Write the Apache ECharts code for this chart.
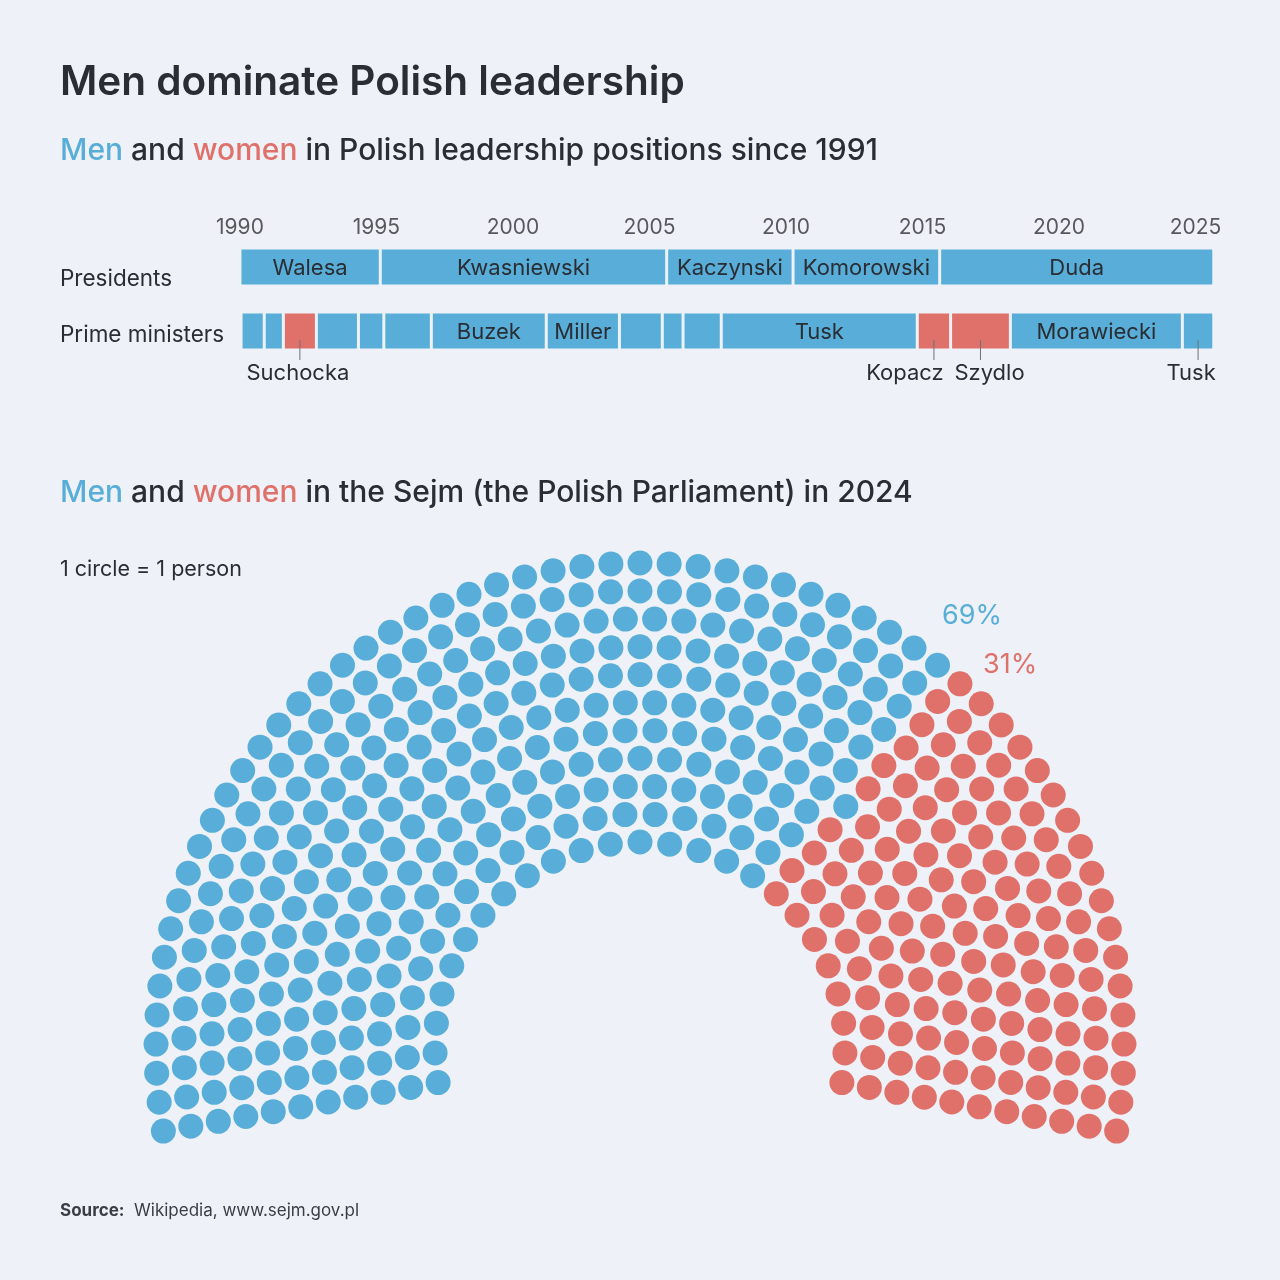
<!DOCTYPE html>
<html>
<head>
<meta charset="utf-8">
<title>Men dominate Polish leadership</title>
<style>
  html, body { margin: 0; padding: 0; background: #eef2f8; }
  #main { width: 1280px; height: 1280px; }
</style>
<script src="https://cdn.jsdelivr.net/npm/echarts@6.0.0/dist/echarts.min.js"></script>
</head>
<body>
<div id="main"></div>
<script>
// ---- data ----
var rowNames = ['Presidents', 'Prime ministers'];
var yearTicks = [1990, 1995, 2000, 2005, 2010, 2015, 2020, 2025];

var presNames = ['Walesa', 'Kwasniewski', 'Kaczynski', 'Komorowski', 'Duda'];
var presStart = [1990.0, 1995.14, 2005.63, 2010.26, 2015.63];
var presEnd = [1995.14, 2005.63, 2010.26, 2015.63, 2025.67];

var pmNames = ['Mazowiecki', 'Bielecki', 'Suchocka', 'Pawlak', 'Oleksy', 'Cimoszewicz', 'Buzek', 'Miller',
  'Belka', 'Marcinkiewicz', 'Kaczynski', 'Tusk', 'Kopacz', 'Szydlo', 'Morawiecki', 'Tusk'];
var pmStart = [1990.04, 1990.89, 1991.59, 1992.80, 1994.34, 1995.27, 1997.01, 2001.22,
  2003.90, 2005.47, 2006.23, 2007.63, 2014.81, 2016.03, 2018.22, 2024.52];
var pmEnd = [1990.89, 1991.59, 1992.80, 1994.34, 1995.27, 1997.01, 2001.22, 2003.90,
  2005.47, 2006.23, 2007.63, 2014.81, 2016.03, 2018.22, 2024.52, 2025.67];
var pmWoman = [0, 0, 1, 0, 0, 0, 0, 0, 0, 0, 0, 0, 1, 1, 0, 0];
var pmLabel = ['', '', 'below', '', '', '', 'in', 'in', '', '', '', 'in', 'below', 'below', 'in', 'below'];

var seatsMen = 318;
var seatsWomen = 142;
var seatRows = 11;

// ---- style ----
var BLUE = '#58aed8';
var RED = '#e0716a';
var TEXT = '#2a2d33';
var FONT = 'Inter, "Noto Sans", sans-serif';
var belowShift = { 2: -2, 12: -29, 13: 9, 15: -7 }; // nudges so the labels don't collide

// seats placed on concentric arcs, then sorted by angle so parties form wedges
function seatLayout(total, rows, spanDeg) {
  var radii = [], sum = 0;
  for (var i = 0; i < rows; i++) { radii.push(205 + i * 27.9); sum += radii[i]; }
  var counts = radii.map(function (r) { return Math.round(total * r / sum); });
  var diff = total - counts.reduce(function (a, b) { return a + b; }, 0);
  var k = rows - 1;
  while (diff !== 0) {
    counts[k] += diff > 0 ? 1 : -1;
    diff += diff > 0 ? -1 : 1;
    k = (k - 1 + rows) % rows;
  }
  var seats = [];
  counts.forEach(function (n, row) {
    for (var j = 0; j < n; j++) seats.push([row, spanDeg * j / (n - 1)]);
  });
  seats.sort(function (a, b) { return a[1] - b[1] || a[0] - b[0]; });
  return seats;
}

var seats = seatLayout(seatsMen + seatsWomen, seatRows, 200);
var womenSeats = seats.slice(0, seatsWomen);   // right-hand side
var menSeats = seats.slice(seatsWomen);

var pctMen = Math.round(seatsMen / (seatsMen + seatsWomen) * 100) + '%';
var pctWomen = Math.round(seatsWomen / (seatsMen + seatsWomen) * 100) + '%';

var presData = presNames.map(function (n, i) {
  return { name: n, value: [0, presStart[i], presEnd[i], 0] };
});
var pmData = pmNames.map(function (n, i) {
  return { name: n, value: [1, pmStart[i], pmEnd[i], pmWoman[i]] };
});

function makeRender(labels, data) {
  return function (params, api) {
    var row = api.value(0);
    var s = api.coord([api.value(1), row]);
    var e = api.coord([api.value(2), row]);
    var h = 35;
    var x0 = s[0] + 1.5, w = e[0] - s[0] - 3;
    var cx = x0 + w / 2;
    var children = [{
      type: 'rect',
      shape: { x: x0, y: s[1] - h / 2, width: w, height: h },
      style: { fill: api.value(3) ? RED : BLUE }
    }];
    var mode = labels(params.dataIndex);
    var name = data[params.dataIndex].name;
    if (mode === 'in') {
      children.push({
        type: 'text',
        style: { text: name, x: cx, y: s[1] + 1, align: 'center', verticalAlign: 'middle',
          fill: TEXT, fontSize: 22, fontFamily: FONT }
      });
    } else if (mode === 'below') {
      children.push({
        type: 'line',
        shape: { x1: cx, y1: s[1] + 9, x2: cx, y2: s[1] + 29 },
        style: { stroke: '#707075', lineWidth: 1 }
      });
      children.push({
        type: 'text',
        style: { text: name, x: cx + (belowShift[params.dataIndex] || 0), y: s[1] + 42,
          align: 'center', verticalAlign: 'middle', fill: TEXT, fontSize: 22, fontFamily: FONT }
      });
    }
    return { type: 'group', children: children };
  };
}

var chart = echarts.init(document.getElementById('main'));
chart.setOption({
  backgroundColor: '#eef2f8',
  animation: false,
  textStyle: { fontFamily: FONT },
  graphic: [
    { type: 'text', style: { text: 'Men dominate Polish leadership', x: 60, y: 83, verticalAlign: 'middle',
        fill: TEXT, fontSize: 40.5, fontWeight: 600, fontFamily: FONT } },
    { type: 'text', style: { text: '{m|Men} and {w|women} in Polish leadership positions since 1991',
        x: 60, y: 151, verticalAlign: 'middle', fill: TEXT, fontSize: 30, fontWeight: 500, fontFamily: FONT,
        rich: { m: { fill: BLUE, fontSize: 30, fontWeight: 500, fontFamily: FONT },
                w: { fill: RED, fontSize: 30, fontWeight: 500, fontFamily: FONT } } } },
    { type: 'text', style: { text: '{m|Men} and {w|women} in the Sejm (the Polish Parliament) in 2024',
        x: 60, y: 493, verticalAlign: 'middle', fill: TEXT, fontSize: 30, fontWeight: 500, fontFamily: FONT,
        rich: { m: { fill: BLUE, fontSize: 30, fontWeight: 500, fontFamily: FONT },
                w: { fill: RED, fontSize: 30, fontWeight: 500, fontFamily: FONT } } } },
    { type: 'text', style: { text: '1 circle = 1 person', x: 60, y: 570, verticalAlign: 'middle',
        fill: TEXT, fontSize: 21.5, fontFamily: FONT } },
    { type: 'text', style: { text: pctMen, x: 942, y: 616, verticalAlign: 'middle',
        fill: BLUE, fontSize: 27, fontFamily: FONT } },
    { type: 'text', style: { text: pctWomen, x: 983, y: 665, verticalAlign: 'middle',
        fill: RED, fontSize: 27, fontFamily: FONT } },
    { type: 'text', style: { text: '{b|Source:}  Wikipedia, www.sejm.gov.pl', x: 60, y: 1211,
        verticalAlign: 'middle', fill: '#3a3d44', fontSize: 17, fontFamily: FONT,
        rich: { b: { fontWeight: 700, fontSize: 17, fill: '#3a3d44', fontFamily: FONT } } } }
  ],
  grid: { left: 234.5, top: 267, width: 991, height: 64 },
  xAxis: {
    type: 'value',
    position: 'top',
    offset: 27,
    min: 1989.8,
    max: 2026.1,
    axisLine: { lineStyle: { color: '#8d8d92', width: 2 } },
    axisTick: { show: false },
    splitLine: { show: false },
    axisLabel: {
      customValues: yearTicks, margin: 2, fontSize: 21, color: '#58585d', fontFamily: FONT,
      formatter: function (v) { return String(v); }
    }
  },
  yAxis: {
    type: 'category',
    data: rowNames,
    inverse: true,
    boundaryGap: false,
    axisLine: { show: false },
    axisTick: { show: false },
    splitLine: { show: false },
    axisLabel: {
      align: 'left',
      margin: 174.5,
      formatter: function (v) { return v === 'Presidents' ? '{p|' + v + '}' : '{q|' + v + '}'; },
      rich: {
        p: { fontSize: 22.5, color: TEXT, fontFamily: FONT, padding: [24, 0, 0, 0] },
        q: { fontSize: 22.5, color: TEXT, fontFamily: FONT, padding: [8, 0, 0, 0] }
      }
    }
  },
  polar: { center: [640, 1047], radius: [205, 484] },
  angleAxis: { type: 'value', min: 0, max: 360, startAngle: 350, clockwise: false, show: false },
  radiusAxis: { type: 'value', min: 0, max: seatRows - 1, show: false },
  series: [
    {
      type: 'custom', name: 'Presidents', renderItem: makeRender(function () { return 'in'; }, presData),
      encode: { x: [1, 2], y: 0 }, data: presData, silent: true
    },
    {
      type: 'custom', name: 'Prime ministers', renderItem: makeRender(function (i) { return pmLabel[i]; }, pmData),
      encode: { x: [1, 2], y: 0 }, data: pmData, silent: true
    },
    {
      type: 'scatter', name: 'Men', coordinateSystem: 'polar', symbolSize: 25,
      itemStyle: { color: BLUE, opacity: 1 }, data: menSeats, silent: true
    },
    {
      type: 'scatter', name: 'Women', coordinateSystem: 'polar', symbolSize: 25,
      itemStyle: { color: RED, opacity: 1 }, data: womenSeats, silent: true
    }
  ]
});
</script>
</body>
</html>
